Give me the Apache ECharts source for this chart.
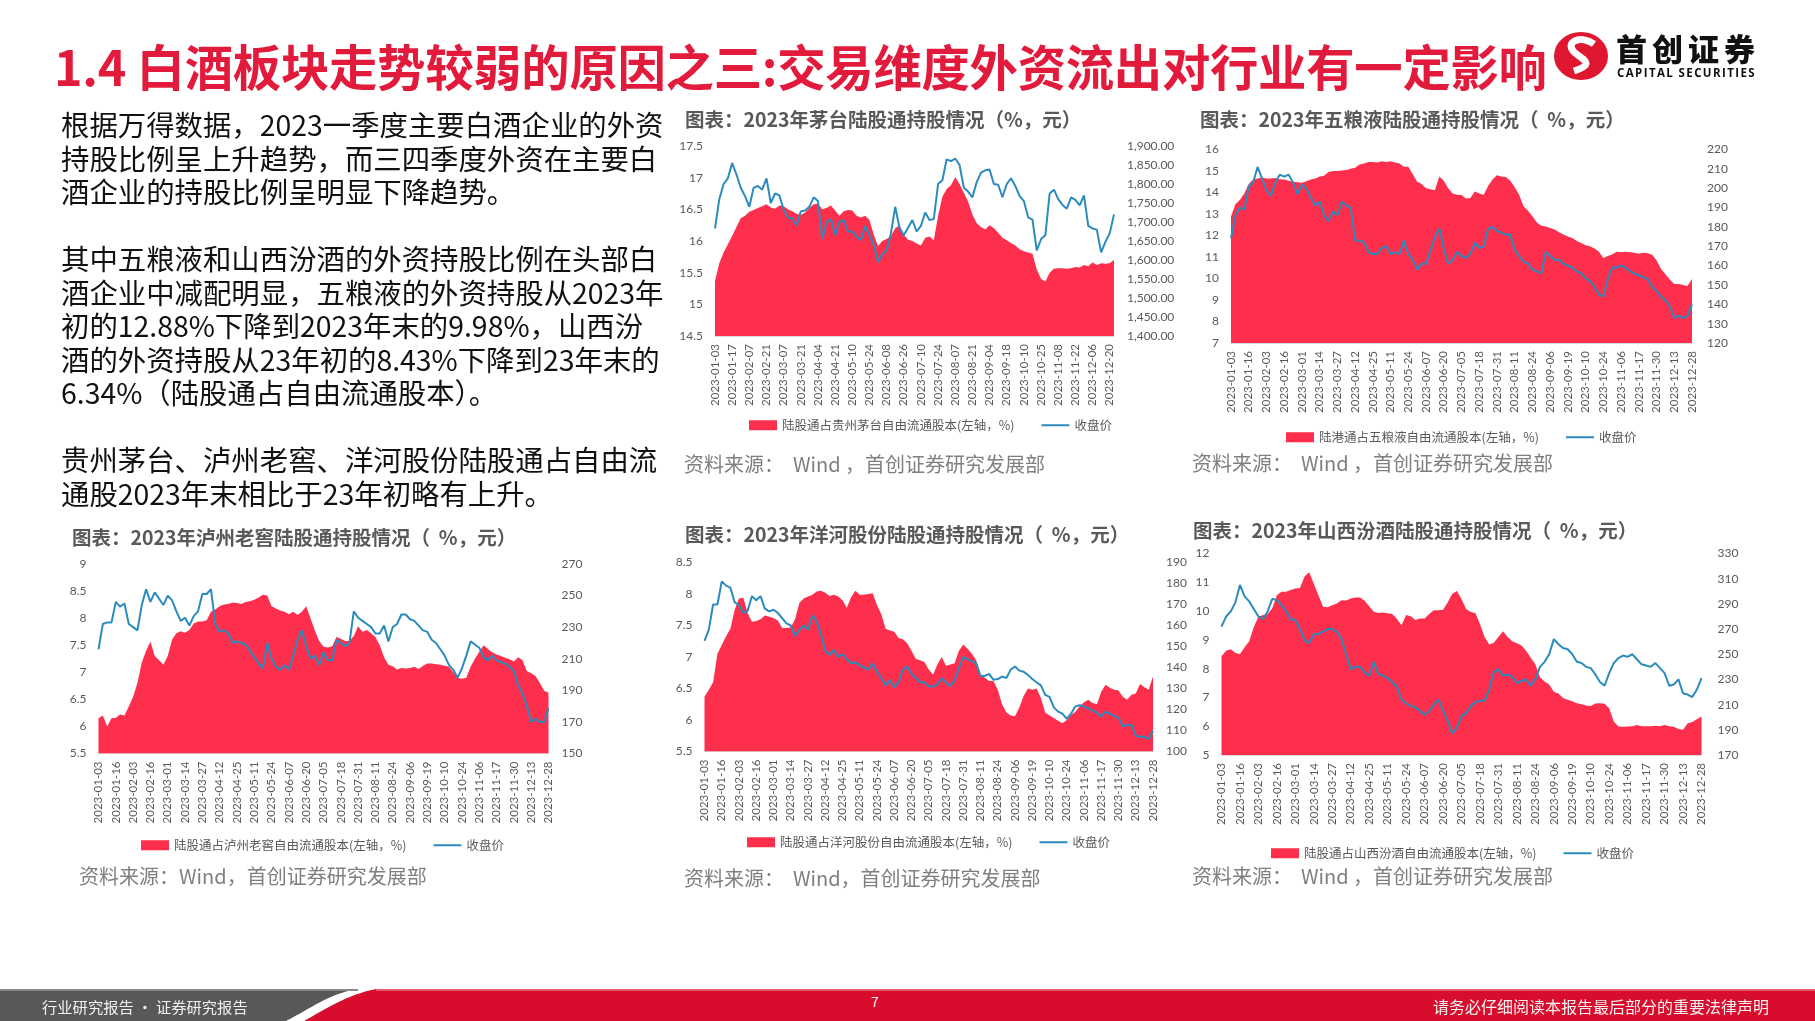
<!DOCTYPE html>
<html>
<head>
<meta charset="utf-8">
<title>白酒板块 陆股通持股</title>
<script src="https://cdn.jsdelivr.net/npm/echarts@6/dist/echarts.min.js"></script>
<style>
  html, body { margin: 0; padding: 0; background: #fff; }
  body { width: 1815px; height: 1021px; position: relative; overflow: hidden; font-family: "Noto Sans CJK SC", sans-serif; }
  #chart { position: absolute; left: 0; top: 0; width: 1815px; height: 1021px; }
  .txt { position: absolute; white-space: nowrap; }
  .head { left: 54px; top: 34px; font-size: 48.4px; line-height: 62px; font-weight: 700; color: #e21b3c; letter-spacing: -0.3px; }
  .para { left: 61px; top: 107px; font-size: 28.4px; line-height: 33.5px; color: #111; }
  .ctitle { font-size: 19.5px; line-height: 26px; font-weight: 700; color: #595959; }
  .src { font-size: 20px; line-height: 26px; color: #7f7f7f; }
  .logo-cn { left: 1616px; top: 28px; font-size: 31px; line-height: 40px; font-weight: 900; color: #111; letter-spacing: 5px; }
  .logo-en { left: 1617px; top: 65px; font-size: 11.5px; line-height: 16px; font-weight: 700; color: #111; font-family: "Open Sans", sans-serif; letter-spacing: 1.4px; }
  .foot { top: 993px; line-height: 26px; color: #f2f2f2; }
</style>
</head>
<body>
<div id="chart"></div>

<div class="txt head">1.4 白酒板块走势较弱的原因之三:交易维度外资流出对行业有一定影响</div>
<svg style="position:absolute;left:1552px;top:29px" width="60" height="54">
  <ellipse cx="29" cy="27" rx="27" ry="24" fill="#e0182f"/>
  <path d="M42 15 C 30 6, 12 12, 22 23 C 31 31, 44 35, 22 42" stroke="#fff" stroke-width="7" fill="none"/>
</svg>
<div class="txt logo-cn">首创证券</div>
<div class="txt logo-en">CAPITAL SECURITIES</div>

<div class="txt para">根据万得数据，2023一季度主要白酒企业的外资<br>持股比例呈上升趋势，而三四季度外资在主要白<br>酒企业的持股比例呈明显下降趋势。<br><br>其中五粮液和山西汾酒的外资持股比例在头部白<br>酒企业中减配明显，五粮液的外资持股从2023年<br>初的12.88%下降到2023年末的9.98%，山西汾<br>酒的外资持股从23年初的8.43%下降到23年末的<br>6.34%（陆股通占自由流通股本）。<br><br>贵州茅台、泸州老窖、洋河股份陆股通占自由流<br>通股2023年末相比于23年初略有上升。</div>

<div class="txt ctitle" style="left:685px;top:106px">图表：2023年茅台陆股通持股情况（%，元）</div>
<div class="txt ctitle" style="left:1200px;top:106px">图表：2023年五粮液陆股通持股情况（&nbsp; %，元）</div>
<div class="txt ctitle" style="left:72px;top:524px">图表：2023年泸州老窖陆股通持股情况（&nbsp; %，元）</div>
<div class="txt ctitle" style="left:685px;top:521px">图表：2023年洋河股份陆股通持股情况（&nbsp; %，元）</div>
<div class="txt ctitle" style="left:1193px;top:517px">图表：2023年山西汾酒陆股通持股情况（&nbsp; %，元）</div>

<div class="txt src" style="left:684px;top:451px">资料来源：&nbsp; Wind ，首创证券研究发展部</div>
<div class="txt src" style="left:1192px;top:450px">资料来源：&nbsp; Wind ，首创证券研究发展部</div>
<div class="txt src" style="left:79px;top:863px">资料来源：Wind，首创证券研究发展部</div>
<div class="txt src" style="left:684px;top:865px">资料来源：&nbsp; Wind，首创证券研究发展部</div>
<div class="txt src" style="left:1192px;top:863px">资料来源：&nbsp; Wind ，首创证券研究发展部</div>

<svg style="position:absolute;left:0;top:989px" width="1815" height="32">
  <path d="M0 0 L358 0 C 330 4, 310 20, 286 32 L0 32 Z" fill="#595757"/>
  <path d="M376 0 L1815 0 L1815 32 L304 32 C 326 20, 346 6, 376 0 Z" fill="#d80c2c"/>
  <rect x="0" y="0" width="358" height="2" fill="#8a8888"/>
  <rect x="376" y="0" width="1439" height="2" fill="#e8596f"/>
</svg>
<div class="txt foot" style="left:42px;font-size:15.3px">行业研究报告 · 证券研究报告</div>
<div class="txt foot" style="left:871px;top:988px;font-size:14px">7</div>
<div class="txt foot" style="left:1433px;font-size:16px">请务必仔细阅读本报告最后部分的重要法律声明</div>

<script>
// 刻度日期
var maotaiTicks = ['2023-01-03','2023-01-17','2023-02-07','2023-02-21','2023-03-07','2023-03-21','2023-04-04','2023-04-21',
  '2023-05-10','2023-05-24','2023-06-08','2023-06-26','2023-07-10','2023-07-24','2023-08-07','2023-08-21','2023-09-04',
  '2023-09-18','2023-10-10','2023-10-25','2023-11-08','2023-11-22','2023-12-06','2023-12-20'];
var hkTicks = ['2023-01-03','2023-01-16','2023-02-03','2023-02-16','2023-03-01','2023-03-14','2023-03-27','2023-04-12',
  '2023-04-25','2023-05-11','2023-05-24','2023-06-07','2023-06-20','2023-07-05','2023-07-18','2023-07-31','2023-08-11',
  '2023-08-24','2023-09-06','2023-09-19','2023-10-10','2023-10-24','2023-11-06','2023-11-17','2023-11-30','2023-12-13','2023-12-28'];

// 贵州茅台
var maotaiHold = [15.37,15.65,15.82,15.95,16.08,16.22,16.36,16.40,16.46,16.49,
  16.52,16.55,16.58,16.53,16.51,16.56,16.55,16.50,16.47,16.43,
  16.41,16.45,16.52,16.58,16.59,16.50,16.52,16.56,16.48,16.40,
  16.47,16.49,16.48,16.40,16.37,16.40,16.33,16.10,15.92,16.00,
  16.03,16.08,16.20,16.25,16.10,16.02,16.00,15.96,15.93,16.05,
  16.07,16.01,16.40,16.70,16.82,16.88,17.01,16.90,16.76,16.62,
  16.42,16.28,16.22,16.18,16.25,16.20,16.13,16.05,16.01,15.97,
  15.93,15.87,15.84,15.82,15.80,15.55,15.40,15.36,15.50,15.56,
  15.57,15.57,15.56,15.57,15.59,15.58,15.62,15.60,15.66,15.62,
  15.65,15.64,15.65,15.70];
var maotaiPrice = [1683,1760,1800,1815,1855,1825,1790,1768,1740,1790,
  1795,1785,1815,1750,1775,1770,1732,1712,1710,1690,
  1728,1730,1740,1765,1755,1655,1700,1708,1665,1700,
  1705,1675,1675,1662,1652,1690,1665,1640,1595,1615,
  1625,1670,1740,1685,1665,1685,1705,1675,1690,1725,
  1705,1708,1800,1810,1865,1860,1867,1850,1790,1780,
  1765,1805,1830,1836,1838,1800,1798,1765,1800,1815,
  1795,1768,1755,1712,1706,1625,1655,1665,1775,1785,
  1760,1745,1735,1765,1758,1744,1770,1690,1683,1680,
  1620,1648,1670,1720];

// 五粮液
var wlyHold = [12.88,13.45,13.65,13.95,14.4,14.6,14.65,14.7,14.65,14.65,
  14.68,14.62,14.6,14.55,14.5,14.48,14.45,14.52,14.6,14.65,
  14.75,14.78,14.95,15.0,15.0,15.02,15.05,15.1,15.15,15.3,
  15.35,15.42,15.42,15.4,15.45,15.42,15.45,15.4,15.35,15.2,
  15.2,14.85,14.5,14.4,14.2,14.15,14.1,14.75,14.55,14.2,
  13.95,13.9,13.88,13.72,13.75,14.05,13.95,13.9,14.3,14.6,
  14.8,14.75,14.72,14.55,14.25,13.9,13.35,13.15,12.9,12.6,
  12.45,12.42,12.35,12.28,12.15,12.05,11.95,11.88,11.75,11.65,
  11.55,11.5,11.4,11.25,10.95,11.05,11.12,11.25,11.22,11.25,
  11.22,11.2,11.15,11.2,11.18,11.1,10.85,10.45,10.2,9.95,
  9.75,9.75,9.7,9.65,9.98];
var wlyPrice = [174,186,190,189,201,203,211,205,199,196,
  203,207,206,207,203,197,202,200,195,191,
  193,186,183,188,186,193,191,190,173,173,
  172,167,166,166,169,170,166,167,166,173,
  166,163,158,161,161,168,175,179,169,161,
  163,167,165,164,166,172,169,170,179,180,
  178,177,176,176,168,165,162,161,158,157,
  156,167,165,163,163,161,160,159,157,156,
  153.5,152,149,145,144,153,159,159,160,159,
  157,156,155,154,153,149,147,144,142,139,
  133,134,133,134,140];

// 泸州老窖
var lzljHold = [6.15,6.2,6.0,6.15,6.16,6.22,6.2,6.37,6.55,6.8,
  7.18,7.4,7.57,7.3,7.22,7.14,7.3,7.6,7.72,7.76,
  7.73,7.78,7.9,7.94,7.94,7.96,8.12,8.16,8.22,8.25,
  8.26,8.29,8.28,8.26,8.3,8.31,8.34,8.38,8.43,8.42,
  8.22,8.18,8.14,8.12,8.07,8.12,8.06,8.12,8.22,8.0,
  7.77,7.58,7.47,7.46,7.48,7.65,7.62,7.58,7.58,7.67,
  7.85,7.75,7.78,7.72,7.65,7.5,7.28,7.14,7.11,7.05,
  7.08,7.07,7.08,7.1,7.06,7.12,7.16,7.16,7.15,7.14,
  7.12,7.1,7.0,6.9,6.88,6.9,7.1,7.25,7.38,7.5,
  7.43,7.37,7.33,7.3,7.27,7.24,7.2,7.28,7.22,7.02,
  6.98,6.93,6.8,6.66,6.62];
var lzljPrice = [216,232,233,233,246,243,245,232,230,228,
  244,254,246,252,248,244,250,247,240,234,
  236,231,237,240,251,251,254,232,227,228,
  226,220,221,220,219,215,211,207,204,220,
  210,205,203,206,203,212,222,228,218,210,
  212,206,214,209,209,222,220,218,220,240,
  236,234,232,230,226,226,231,221,230,232,
  238,238,235,234,231,228,227,222,220,216,
  212,206,203,198,204,212,221,219,217,211,
  209,212,209,208,207,205,202,193,188,180,
  170,172,170,170,179];

// 洋河股份
var yhgfHold = [6.37,6.48,6.6,7.05,7.19,7.33,7.45,7.75,7.93,7.94,
  7.7,7.56,7.57,7.6,7.66,7.64,7.62,7.58,7.46,7.46,
  7.47,7.6,7.86,7.93,7.96,7.99,8.04,8.05,8.02,7.97,
  7.99,7.96,7.9,7.78,7.95,8.05,7.99,7.99,8.0,8.01,
  7.82,7.68,7.45,7.42,7.4,7.3,7.28,7.22,7.1,6.97,
  6.95,6.92,6.8,6.72,6.88,7.0,6.86,6.88,6.9,7.1,
  7.2,7.13,7.05,6.95,6.72,6.67,6.62,6.62,6.48,6.25,
  6.12,6.07,6.06,6.2,6.38,6.5,6.48,6.5,6.35,6.12,
  6.07,6.03,5.99,5.95,6.0,6.08,6.13,6.22,6.28,6.32,
  6.27,6.25,6.45,6.56,6.51,6.48,6.47,6.37,6.32,6.4,
  6.42,6.57,6.52,6.48,6.69];
var yhgfPrice = [152.7,158,170,170,181,179,178,171,169.8,166,
  167,174,172,174,168,166.7,167.5,166,163.5,161,
  160,155,158,160,158,165,161.9,156,148,146,
  148.4,145,146.3,144,142,142.5,141,140,139,142,
  138,135,131.5,134,130.5,133,139,140.5,137,135,
  133,133,131,131,132,134.9,133,131,134,139.7,
  145,144,143,142,136,136,137,134.1,134.5,135.7,
  135,139,140.5,138.5,138,136.5,134.5,133,131.5,127,
  126,121,119,118,115.5,118,121.5,122,121.4,120.5,
  119.5,118.5,116.7,119,118,117,116,112,112.5,112.7,
  107.5,107,107,106,109.8];

// 山西汾酒
var sxfjHold = [8.43,8.62,8.67,8.55,8.5,8.74,8.95,9.45,9.8,9.86,
  9.9,10.1,10.55,10.67,10.67,10.73,10.78,10.8,11.2,11.35,
  10.95,10.55,10.15,10.13,10.2,10.26,10.38,10.37,10.44,10.47,
  10.47,10.36,10.17,9.98,9.93,9.95,9.92,9.9,9.73,9.51,
  9.86,9.82,9.69,9.74,9.74,9.9,10.03,10.03,10.05,10.3,
  10.6,10.7,10.42,10.07,9.97,9.93,9.55,9.1,8.84,8.9,
  9.1,9.3,9.1,8.95,8.88,8.8,8.62,8.38,8.15,7.7,
  7.55,7.45,7.2,7.14,6.98,6.92,6.87,6.8,6.76,6.72,
  6.7,6.79,6.8,6.78,6.62,6.16,5.99,5.98,5.99,6.0,
  6.04,6.0,6.0,6.0,6.02,6.0,6.04,6.0,5.98,5.9,
  5.88,6.1,6.15,6.24,6.34];
var sxfjPrice = [272,280,284,291,305,296,292,286,280,278,
  284,294,293,289,284,278,277,270,261,259,
  266,266,268,270,270,268,262,250,238,240,
  240,236,233,244,234,233,231,228,224,214,
  211,209,208,205,202,205,210,214,205,197,
  187,192,201,203,209,212,213,213,222,236,
  238,233,234,232,227,229,230,225,230,240,
  244,250,262,258,255,254,250,244,243,240,
  239,234,228,225,235,243,247,249,248,250,
  246,242,241,240,243,239,235,225,226,230,
  219,218,216,222,231];

var RED = '#fe2f4c';
var BLUE = '#2b8bbd';
var GREY = '#595959';

// 刻度之间插 3 个点，每 4 个点显示一个日期
function buildCats(ticks, extra) {
  var out = [];
  for (var i = 0; i < ticks.length; i++) {
    out.push(ticks[i]);
    if (i < ticks.length - 1) {
      for (var j = 1; j < 4; j++) out.push(ticks[i] + '#' + j);
    }
  }
  for (var k = 1; k <= extra; k++) out.push(ticks[ticks.length - 1] + '#' + k);
  return out;
}

function thousands(v) {
  return v.toFixed(2).replace(/\B(?=(\d{3})+(?!\d))/g, ',');
}

var option = { animation: false, grid: [], xAxis: [], yAxis: [], series: [], legend: [] };

function addChart(c) {
  var gi = option.grid.length;
  option.grid.push({ left: c.l, top: c.t, width: c.r - c.l, height: c.b - c.t, containLabel: false });
  option.xAxis.push({
    type: 'category', gridIndex: gi, boundaryGap: false, data: c.cats,
    axisLine: { show: true, lineStyle: { color: '#d9d9d9' } },
    axisTick: { show: false },
    axisLabel: {
      rotate: 90, interval: 3, margin: 8, fontSize: 11.5, color: GREY, fontFamily: 'Lato',
      formatter: function (v) { return v.indexOf('#') >= 0 ? '' : v; }
    }
  });
  option.yAxis.push({
    type: 'value', gridIndex: gi, min: c.lmin, max: c.lmax, interval: c.lint, position: 'left',
    axisLine: { show: false }, axisTick: { show: false }, splitLine: { show: false },
    axisLabel: { margin: 12, fontSize: 12, color: GREY, fontFamily: 'Lato' }
  });
  option.yAxis.push({
    type: 'value', gridIndex: gi, min: c.rmin, max: c.rmax, interval: c.rint, position: 'right',
    axisLine: { show: false }, axisTick: { show: false }, splitLine: { show: false },
    axisLabel: { margin: c.rmargin, fontSize: 12, color: GREY, fontFamily: 'Lato', formatter: c.rfmt }
  });
  option.series.push({
    name: c.holdName, type: 'line', xAxisIndex: gi, yAxisIndex: gi * 2, data: c.hold,
    symbol: 'none', lineStyle: { width: 0 }, itemStyle: { color: RED },
    areaStyle: { color: RED, opacity: 1, origin: 'start' }
  });
  option.series.push({
    name: '收盘价', type: 'line', xAxisIndex: gi, yAxisIndex: gi * 2 + 1, data: c.price,
    symbol: 'none', lineStyle: { width: 2, color: BLUE }, itemStyle: { color: BLUE }
  });
  option.legend.push({
    left: c.legX, top: c.legY - 7, padding: 0, itemWidth: 28, itemHeight: 10, itemGap: 27, selectedMode: false,
    textStyle: { fontSize: 12.5, color: GREY, fontFamily: 'Noto Sans CJK SC' },
    data: [
      { name: c.holdName, icon: 'rect' },
      { name: '收盘价', icon: 'path://M0,0 L14,0 L14,1 L0,1 Z' }
    ]
  });
}

addChart({ l: 715, r: 1114, t: 146, b: 336, cats: buildCats(maotaiTicks, 1),
  hold: maotaiHold, price: maotaiPrice, holdName: '陆股通占贵州茅台自由流通股本(左轴，%)',
  lmin: 14.5, lmax: 17.5, lint: 0.5, rmin: 1400, rmax: 1900, rint: 50, rmargin: 13, rfmt: thousands,
  legX: 749, legY: 426 });
addChart({ l: 1231, r: 1692, t: 149.5, b: 343, cats: buildCats(hkTicks, 0),
  hold: wlyHold, price: wlyPrice, holdName: '陆港通占五粮液自由流通股本(左轴，%)',
  lmin: 7, lmax: 16, lint: 1, rmin: 120, rmax: 220, rint: 10, rmargin: 15,
  legX: 1286, legY: 438 });
addChart({ l: 98.5, r: 548.5, t: 564, b: 753.5, cats: buildCats(hkTicks, 0),
  hold: lzljHold, price: lzljPrice, holdName: '陆股通占泸州老窖自由流通股本(左轴，%)',
  lmin: 5.5, lmax: 9, lint: 0.5, rmin: 150, rmax: 270, rint: 20, rmargin: 13,
  legX: 141, legY: 846 });
addChart({ l: 704.5, r: 1153, t: 562.5, b: 751.5, cats: buildCats(hkTicks, 0),
  hold: yhgfHold, price: yhgfPrice, holdName: '陆股通占洋河股份自由流通股本(左轴，%)',
  lmin: 5.5, lmax: 8.5, lint: 0.5, rmin: 100, rmax: 190, rint: 10, rmargin: 13,
  legX: 747, legY: 843 });
addChart({ l: 1221.5, r: 1701.5, t: 553.5, b: 755, cats: buildCats(hkTicks, 0),
  hold: sxfjHold, price: sxfjPrice, holdName: '陆股通占山西汾酒自由流通股本(左轴，%)',
  lmin: 5, lmax: 12, lint: 1, rmin: 170, rmax: 330, rint: 20, rmargin: 16,
  legX: 1271, legY: 854 });

var myChart = echarts.init(document.getElementById('chart'));
myChart.setOption(option);
</script>
</body>
</html>
